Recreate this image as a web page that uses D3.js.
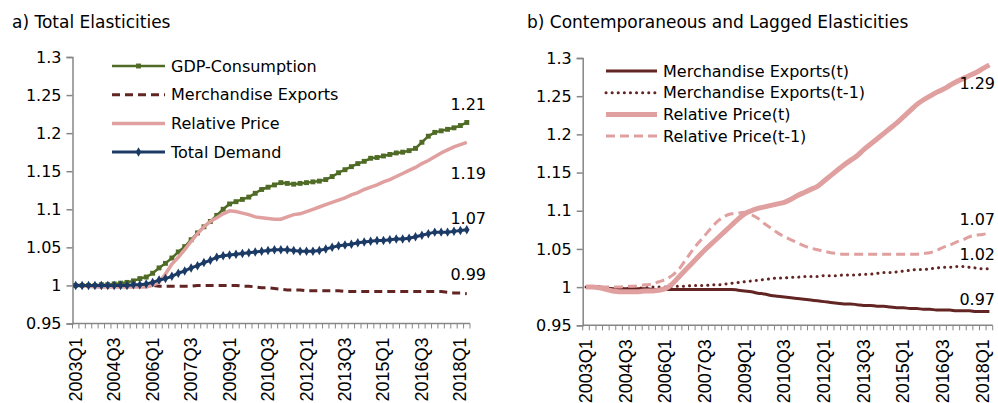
<!DOCTYPE html>
<html>
<head>
<meta charset="utf-8">
<script src="https://cdn.jsdelivr.net/npm/d3@7"></script>
<style>
  body { margin: 0; background: #fff; }
  svg { display: block; }
  text { font-family: "DejaVu Sans", sans-serif; fill: #000; }
</style>
</head>
<body>
<div id="chart"></div>
<script>
// categories: 2003Q1 .. 2018Q2
var quarters = [];
for (var yr = 2003; yr <= 2018; yr++) for (var q = 1; q <= 4; q++) quarters.push(yr + "Q" + q);
quarters = quarters.slice(0, 62);
var yTicks = [0.95, 1, 1.05, 1.1, 1.15, 1.2, 1.25, 1.3];

// panel a) total elasticities
var gdpConsumption = [1.000,1.000,1.000,1.000,1.001,1.001,1.002,1.003,1.004,1.006,1.009,1.011,1.016,1.023,1.029,1.036,
  1.044,1.051,1.060,1.069,1.077,1.084,1.092,1.100,1.107,1.110,1.113,1.116,1.121,1.126,1.129,1.132,1.135,1.134,1.133,
  1.134,1.135,1.136,1.137,1.139,1.143,1.148,1.152,1.156,1.160,1.163,1.167,1.168,1.170,1.172,1.174,1.175,1.177,1.180,
  1.188,1.196,1.201,1.203,1.205,1.207,1.210,1.214];
var merchExports = [1.000,1.000,1.000,1.000,1.000,1.000,1.000,1.000,1.000,1.000,1.000,1.000,1.000,0.999,0.999,0.999,
  0.999,0.999,0.999,1.000,1.000,1.000,1.000,1.000,1.000,1.000,0.999,0.999,0.998,0.997,0.997,0.996,0.995,0.994,0.994,
  0.994,0.993,0.993,0.993,0.993,0.993,0.993,0.992,0.992,0.992,0.992,0.992,0.992,0.992,0.992,0.992,0.992,0.992,0.992,
  0.992,0.992,0.992,0.992,0.991,0.990,0.990,0.989];
var relativePrice = [1.000,1.000,0.999,0.998,0.998,0.998,0.998,0.998,0.998,0.998,0.998,0.998,1.000,1.004,1.015,1.028,
  1.037,1.047,1.058,1.068,1.077,1.084,1.089,1.094,1.098,1.097,1.095,1.093,1.090,1.089,1.088,1.087,1.087,1.090,1.093,
  1.094,1.097,1.100,1.103,1.106,1.109,1.112,1.115,1.119,1.122,1.126,1.129,1.132,1.136,1.139,1.143,1.147,1.151,1.155,
  1.160,1.164,1.169,1.174,1.178,1.182,1.185,1.188];
var totalDemand = [1.000,1.000,1.000,1.000,1.000,1.000,1.000,1.000,1.000,1.001,1.001,1.002,1.004,1.007,1.009,1.012,
  1.016,1.019,1.023,1.026,1.030,1.033,1.037,1.039,1.040,1.041,1.042,1.043,1.044,1.045,1.046,1.047,1.047,1.047,1.046,
  1.045,1.045,1.045,1.046,1.048,1.050,1.052,1.053,1.054,1.056,1.057,1.058,1.059,1.059,1.060,1.061,1.061,1.062,1.064,
  1.066,1.068,1.070,1.070,1.070,1.071,1.072,1.073];

// panel b) contemporaneous and lagged
var merchExportsT = [1.000,1.000,1.000,0.999,0.998,0.998,0.998,0.998,0.998,0.998,0.997,0.997,0.997,0.997,0.997,0.997,
  0.997,0.997,0.997,0.997,0.997,0.997,0.997,0.996,0.995,0.994,0.992,0.991,0.989,0.988,0.987,0.986,0.985,0.984,0.983,
  0.982,0.981,0.980,0.979,0.978,0.978,0.977,0.976,0.976,0.975,0.975,0.974,0.973,0.973,0.972,0.972,0.971,0.971,0.970,
  0.970,0.970,0.969,0.969,0.969,0.968,0.968,0.968];
var merchExportsT1 = [1.000,1.000,1.000,0.999,0.998,0.998,0.999,0.999,0.999,0.999,1.000,1.000,1.000,1.001,1.001,1.001,
  1.002,1.002,1.002,1.003,1.003,1.004,1.005,1.006,1.007,1.008,1.009,1.010,1.011,1.012,1.012,1.013,1.013,1.014,1.014,
  1.014,1.015,1.015,1.015,1.016,1.016,1.016,1.017,1.017,1.018,1.019,1.019,1.020,1.021,1.022,1.023,1.023,1.024,1.025,
  1.026,1.026,1.027,1.027,1.026,1.025,1.024,1.024];
var relativePriceT = [1.000,1.000,0.999,0.997,0.995,0.994,0.994,0.994,0.994,0.995,0.995,0.996,0.998,1.004,1.013,1.022,
  1.031,1.040,1.049,1.057,1.065,1.073,1.081,1.089,1.096,1.100,1.103,1.105,1.107,1.109,1.111,1.115,1.120,1.124,1.128,
  1.132,1.139,1.146,1.153,1.160,1.166,1.172,1.180,1.187,1.194,1.201,1.208,1.215,1.223,1.231,1.239,1.245,1.250,1.255,
  1.259,1.264,1.269,1.273,1.277,1.281,1.286,1.291];
var relativePriceT1 = [1.000,1.000,1.000,1.000,1.000,1.000,1.001,1.001,1.002,1.003,1.004,1.007,1.010,1.015,1.023,1.035,
  1.047,1.058,1.068,1.078,1.087,1.093,1.096,1.097,1.098,1.095,1.090,1.083,1.077,1.071,1.066,1.062,1.058,1.054,1.051,
  1.049,1.047,1.045,1.044,1.043,1.043,1.043,1.043,1.043,1.043,1.043,1.043,1.043,1.043,1.043,1.043,1.044,1.045,1.048,
  1.052,1.055,1.059,1.062,1.066,1.068,1.069,1.071];

var panelTitles = ["a) Total Elasticities", "b) Contemporaneous and Lagged Elasticities"];
var namesA = ["GDP-Consumption", "Merchandise Exports", "Relative Price", "Total Demand"];
var namesB = ["Merchandise Exports(t)", "Merchandise Exports(t-1)", "Relative Price(t)", "Relative Price(t-1)"];
var endLabelsA = ["1.21", "1.19", "1.07", "0.99"];
var endLabelsB = ["1.29", "1.07", "1.02", "0.97"];

var green = "#4f6b25", maroon = "#632523", pink = "#e0a09f", navy = "#1b3a66";

var svg = d3.select("#chart").append("svg")
    .attr("width", 998)
    .attr("height", 403);

function drawPanel(p) {
  var g = svg.append("g");
  var x = d3.scaleBand().domain(quarters).range([p.left, p.right]).padding(0);
  var y = d3.scaleLinear().domain([0.95, 1.3]).range([p.bottom, p.top]);
  var bw = x.bandwidth();

  g.append("text").attr("x", p.titleX).attr("y", 28)
    .style("font-size", "17px").text(p.title);

  // y axis
  var yAxis = g.append("g").attr("transform", "translate(" + p.left + ",0)")
    .call(d3.axisLeft(y).tickValues(yTicks).tickSize(6).tickPadding(5)
      .tickFormat(function(d) { return String(+d.toFixed(2)); }));
  yAxis.select(".domain").attr("stroke", "#868686").attr("stroke-width", 1.5);
  yAxis.selectAll(".tick line").attr("stroke", "#868686").attr("stroke-width", 1.5);
  yAxis.selectAll(".tick text").style("font-size", "16px").style("font-family", "DejaVu Sans").attr("fill", "#000");

  // x axis: small ticks at every category boundary, labels every 6 quarters
  var xg = g.append("g");
  xg.append("line").attr("x1", p.left).attr("x2", p.right)
    .attr("y1", p.bottom).attr("y2", p.bottom).attr("stroke", "#868686").attr("stroke-width", 1.5);
  var edges = quarters.map(function(d) { return x(d); }).concat([p.right]);
  xg.selectAll(".qt").data(edges).enter().append("line")
    .attr("x1", function(d) { return d; }).attr("x2", function(d) { return d; })
    .attr("y1", p.bottom).attr("y2", p.bottom + 5)
    .attr("stroke", "#868686").attr("stroke-width", 1);
  xg.selectAll(".ql").data(quarters.filter(function(d, i) { return i % 6 === 0; })).enter().append("text")
    .attr("transform", function(d) { return "translate(" + (x(d) + bw / 2 + 6) + "," + (p.bottom + 14) + ") rotate(-90)"; })
    .attr("text-anchor", "end")
    .style("font-family", "Liberation Sans, Arial, sans-serif")
    .style("font-size", "18px")
    .text(function(d) { return d; });

  var line = d3.line()
    .x(function(d, i) { return x(quarters[i]) + bw / 2; })
    .y(function(d) { return y(d); })
    .curve(p.curve);

  p.series.forEach(function(s) {
    g.append("path").datum(s.values)
      .attr("fill", "none").attr("stroke", s.color).attr("stroke-width", s.width)
      .attr("stroke-dasharray", s.dash || null)
      .attr("stroke-linecap", s.cap || "butt")
      .attr("d", line);
    if (s.marker) {
      g.selectAll(null).data(s.values).enter().append("path")
        .attr("transform", function(d, i) { return "translate(" + (x(quarters[i]) + bw / 2) + "," + y(d) + ")"; })
        .attr("d", d3.symbol().type(s.marker).size(s.markerSize))
        .attr("fill", s.color);
    }
  });

  // legend
  var lg = g.append("g");
  p.series.forEach(function(s, i) {
    var ly = p.legendY + i * p.legendStep;
    lg.append("line").attr("x1", p.legendX).attr("x2", p.legendX + p.legendLen)
      .attr("y1", ly).attr("y2", ly)
      .attr("stroke", s.color).attr("stroke-width", s.width)
      .attr("stroke-dasharray", s.dash || null)
      .attr("stroke-linecap", s.cap || "butt");
    if (s.marker) {
      lg.append("path").attr("transform", "translate(" + (p.legendX + p.legendLen / 2) + "," + ly + ")")
        .attr("d", d3.symbol().type(s.marker).size(s.markerSize)).attr("fill", s.color);
    }
    lg.append("text").attr("x", p.legendX + p.legendLen + 6).attr("y", ly).attr("dy", "0.35em")
      .style("font-size", "16px").text(s.name);
  });

  // end value labels
  p.endLabels.forEach(function(t, i) {
    g.append("text").attr("x", p.labelX).attr("y", p.labelY[i]).attr("dy", "0.35em")
      .attr("text-anchor", "end").style("font-size", "16px").text(t);
  });
}

drawPanel({
  left: 72.5, right: 470, top: 57, bottom: 323.5,
  title: panelTitles[0], titleX: 12, curve: d3.curveLinear,
  legendX: 112, legendLen: 53, legendY: 66, legendStep: 28.7,
  labelX: 486, labelY: [104, 173, 218, 274], endLabels: endLabelsA,
  series: [
    {name: namesA[0], values: gdpConsumption, color: green, width: 2.5, marker: d3.symbolSquare, markerSize: 24},
    {name: namesA[1], values: merchExports, color: maroon, width: 3, dash: "8,5"},
    {name: namesA[2], values: relativePrice, color: pink, width: 3.5},
    {name: namesA[3], values: totalDemand, color: navy, width: 3, marker: d3.symbolDiamond, markerSize: 26}
  ]
});

drawPanel({
  left: 582.7, right: 992.7, top: 58, bottom: 325.3,
  title: panelTitles[1], titleX: 527, curve: d3.curveMonotoneX,
  legendX: 606, legendLen: 51, legendY: 71, legendStep: 21.7,
  labelX: 995, labelY: [83, 219, 254, 299], endLabels: endLabelsB,
  series: [
    {name: namesB[0], values: merchExportsT, color: maroon, width: 3},
    {name: namesB[1], values: merchExportsT1, color: maroon, width: 3, dash: "0.1,6", cap: "round"},
    {name: namesB[2], values: relativePriceT, color: pink, width: 5},
    {name: namesB[3], values: relativePriceT1, color: pink, width: 3, dash: "9,5"}
  ]
});
</script>
</body>
</html>
